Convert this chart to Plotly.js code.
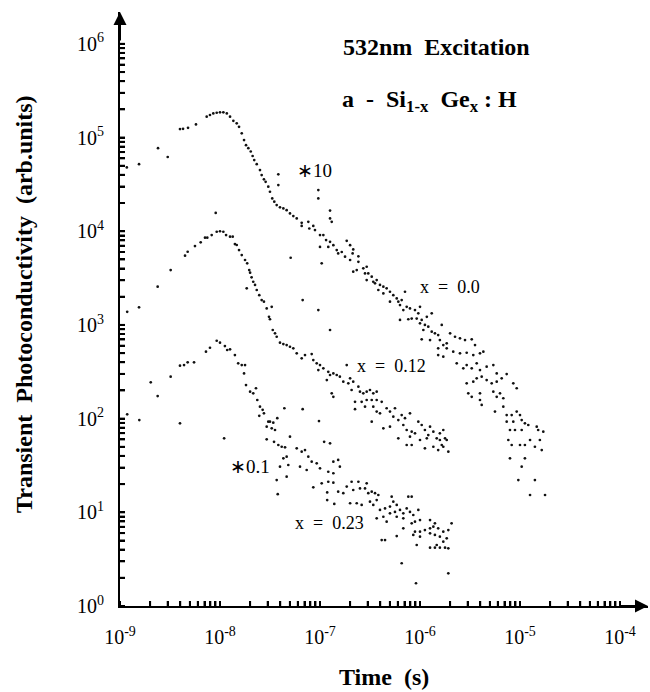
<!DOCTYPE html>
<html>
<head>
<meta charset="utf-8">
<script src="https://cdn.plot.ly/plotly-3.0.1.min.js"></script>
<style>html,body{margin:0;padding:0;background:#fff;}</style>
</head>
<body>
<div id="chart" style="width:650px;height:692px;"></div>
<script>
// Series x = 0.0 (scaled *10)
var t0 = [1.17e-9,1.55e-9,2.4e-9,3.0e-9,3.98e-9,4.27e-9,4.79e-9,5.75e-9,7.36e-9,7.94e-9,
8.57e-9,9.27e-9,1.0e-8,1.08e-8,1.17e-8,1.26e-8,1.36e-8,1.47e-8,1.55e-8,1.65e-8,
1.74e-8,1.82e-8,1.92e-8,2.03e-8,2.12e-8,2.20e-8,2.33e-8,2.51e-8,2.61e-8,2.75e-8,
2.86e-8,3.04e-8,3.16e-8,3.33e-8,3.49e-8,3.69e-8,3.98e-8,4.30e-8,4.64e-8,5.01e-8,
5.41e-8,5.85e-8,3.83e-8,3.83e-8,9.62e-8,9.62e-8,1.26e-7,1.26e-7,6.56e-8,6.56e-8,
7.64e-8,7.82e-8,8.57e-8,8.91e-8,1.0e-7,1.08e-7,1.15e-7,1.26e-7,1.36e-7,1.47e-7,
1.52e-7,1.0e-7,1.21e-7,1.31e-7,1.85e-7,1.65e-7,1.78e-7,2.0e-7,2.12e-7,2.15e-7,
2.0e-7,2.42e-7,2.42e-7,2.15e-7,2.33e-7,2.71e-7,2.82e-7,2.93e-7,3.04e-7,3.29e-7,
2.93e-7,3.41e-7,3.69e-7,3.55e-7,3.98e-7,4.30e-7,3.83e-7,4.64e-7,5.01e-7,4.30e-7,
5.41e-7,5.85e-7,5.01e-7,6.07e-7,6.56e-7,7.08e-7,6.31e-7,7.36e-7,6.81e-7,7.94e-7,
8.91e-7,1.0e-6,9.62e-7,7.64e-7,6.31e-7,8.26e-7,9.27e-7,1.04e-6,1.17e-6,1.31e-6,
1.0e-6,1.12e-6,1.21e-6,1.08e-6,1.31e-6,1.41e-6,1.52e-6,1.65e-6,1.04e-6,1.26e-6,
1.58e-6,1.71e-6,1.85e-6,2.0e-6,2.24e-6,2.51e-6,2.82e-6,3.29e-6,3.55e-6,1.85e-6,
1.52e-6,1.52e-6,1.71e-6,2.15e-6,2.51e-6,2.93e-6,3.41e-6,3.98e-6,4.30e-6,2.33e-6,
2.71e-6,2.93e-6,3.29e-6,3.69e-6,3.98e-6,4.64e-6,5.41e-6,5.85e-6,2.93e-6,3.41e-6,
3.69e-6,4.14e-6,4.64e-6,5.21e-6,5.85e-6,6.56e-6,7.36e-6,8.57e-6,9.27e-6,3.04e-6,
3.29e-6,3.98e-6,3.98e-6,4.14e-6,5.41e-6,5.85e-6,6.31e-6,6.81e-6,5.62e-6,6.81e-6,
7.36e-6,8.26e-6,9.27e-6,1.0e-5,7.36e-6,8.57e-6,1.04e-5,1.12e-5,7.94e-6,8.91e-6,
1.04e-5,1.21e-5,1.47e-5,1.71e-5,7.64e-6,8.26e-6,1.0e-5,1.12e-5,1.26e-5,1.41e-5,
1.58e-5,1.65e-5,7.94e-6,1.12e-5,1.04e-5,9.62e-6,1.41e-5,1.26e-5,1.78e-5,1.52e-5];
var s0 = [4.8e4,5.2e4,7.7e4,6.2e4,1.23e5,1.24e5,1.27e5,1.38e5,1.67e5,1.74e5,
1.81e5,1.84e5,1.86e5,1.86e5,1.81e5,1.67e5,1.51e5,1.42e5,1.30e5,1.11e5,
9.4e4,8.3e4,7.7e4,7.1e4,6.35e4,5.75e4,5.2e4,4.5e4,3.98e4,3.58e4,
3.37e4,2.99e4,2.64e4,2.24e4,2.07e4,1.90e4,1.80e4,1.75e4,1.68e4,1.55e4,
1.45e4,1.37e4,4.05e4,3.11e4,2.75e4,2.24e4,1.66e4,1.37e4,1.23e4,1.14e4,
1.26e4,1.07e4,1.14e4,1.03e4,9.1e3,9.1e3,8.05e3,7.7e3,7.1e3,6.3e3,
5.8e3,6.8e3,6.8e3,1.26e4,7.9e3,6.0e3,5.35e3,4.93e3,5.8e3,6.4e3,
7.1e3,5.4e3,4.72e3,3.70e3,3.85e3,4.02e3,3.55e3,4.18e3,3.55e3,3.27e3,
3.01e3,2.89e3,3.01e3,2.78e3,2.67e3,2.56e3,2.36e3,2.46e3,2.26e3,2.17e3,
2.08e3,1.92e3,1.77e3,1.77e3,1.84e3,2.26e3,1.63e3,1.56e3,1.44e3,1.50e3,
1.44e3,1.56e3,1.33e3,1.15e3,1.13e3,1.17e3,1.17e3,1.13e3,1.22e3,1.33e3,
1.04e3,1.0e3,957,883,847,813,780,1.0e3,702,690,
690,610,636,813,748,719,690,702,610,562,
562,477,458,518,498,505,477,498,518,389,
344,373,344,389,330,358,373,304,238,248,
269,280,258,238,248,269,299,238,211,186,
171,186,158,140,194,171,186,165,119,134,
109,109,119,109,92.7,92.7,96.6,89.1,75.6,75.6,
75.6,85.5,82.0,72.5,59.1,52.3,52.3,52.3,59.1,50.1,
59.1,46.2,37.7,37.7,30.7,22.1,22.1,15.3,15.3,75.6];

// Series x = 0.12
var t12 = [1.18e-9,1.55e-9,2.38e-9,3.21e-9,4.47e-9,4.75e-9,5.62e-9,6.41e-9,7.08e-9,7.46e-9,
8.26e-9,9.27e-9,1.0e-8,1.08e-8,1.15e-8,1.26e-8,1.34e-8,1.41e-8,1.47e-8,1.55e-8,
1.65e-8,1.78e-8,1.87e-8,1.96e-8,2.0e-8,2.07e-8,2.15e-8,2.24e-8,2.33e-8,2.47e-8,
2.61e-8,2.75e-8,2.93e-8,3.09e-8,3.16e-8,3.29e-8,3.37e-8,3.55e-8,3.69e-8,3.98e-8,
4.30e-8,4.64e-8,5.01e-8,5.41e-8,1.85e-8,9.06e-9,5.09e-8,6.71e-8,1.04e-7,9.62e-8,
1.26e-7,5.85e-8,6.56e-8,7.08e-8,8.26e-8,8.57e-8,9.27e-8,1.0e-7,9.62e-8,1.08e-7,
1.21e-7,1.26e-7,1.36e-7,1.47e-7,1.31e-7,1.36e-7,1.17e-7,1.85e-7,1.58e-7,1.71e-7,
1.92e-7,2.0e-7,2.15e-7,2.07e-7,2.42e-7,2.51e-7,2.71e-7,2.93e-7,3.16e-7,3.41e-7,
3.69e-7,2.24e-7,2.61e-7,2.93e-7,3.29e-7,3.69e-7,4.14e-7,2.24e-7,2.82e-7,3.41e-7,
3.69e-7,3.98e-7,4.64e-7,5.01e-7,5.62e-7,5.41e-7,6.07e-7,6.56e-7,7.08e-7,7.94e-7,
3.29e-7,4.30e-7,5.01e-7,6.07e-7,6.81e-7,7.36e-7,8.26e-7,8.91e-7,9.62e-7,1.04e-6,
1.12e-6,1.21e-6,1.26e-6,1.36e-6,1.47e-6,1.58e-6,1.71e-6,1.78e-6,1.85e-6,7.94e-7,
7.36e-7,8.26e-7,1.0e-6,1.17e-6,1.12e-6,1.36e-6,1.58e-6,1.65e-6,1.52e-6,1.92e-6,
1.71e-6];
var s12 = [1.38e3,1.54e3,2.56e3,3.85e3,5.48e3,6.04e3,6.95e3,7.62e3,8.53e3,8.53e3,
9.1e3,9.88e3,1.0e4,9.88e3,9.1e3,8.74e3,8.74e3,7.3e3,7.13e3,6.3e3,
5.57e3,4.93e3,4.54e3,3.85e3,3.61e3,3.22e3,2.89e3,2.67e3,2.36e3,2.08e3,
1.84e3,1.77e3,1.50e3,1.22e3,1.15e3,1.56e3,883,813,748,646,
625,610,585,562,2.46e3,1.57e4,5.21e3,1.84e3,4.54e3,1.44e3,
883,498,440,477,489,422,389,373,330,344,
316,292,304,292,186,171,258,373,280,248,
238,269,248,202,219,194,186,194,202,186,
194,151,151,158,158,158,151,126,134,134,
119,114,129,119,129,105,96.6,109,101,114,
92.7,78.8,82.0,61.6,85.5,75.6,72.5,69.7,92.7,85.5,
75.6,66.8,82.0,72.5,61.6,69.7,75.6,61.6,59.1,64.1,
52.3,52.3,59.1,61.6,48.2,50.1,59.1,52.3,46.2,44.4,
50.1];

// Series x = 0.23 (scaled *0.1)
var t23 = [1.18e-9,1.56e-9,2.03e-9,2.38e-9,3.21e-9,3.98e-9,4.37e-9,4.75e-9,5.50e-9,7.24e-9,
7.94e-9,9.27e-9,1.0e-8,1.12e-8,1.18e-8,1.26e-8,1.41e-8,1.52e-8,1.65e-8,1.78e-8,
1.74e-8,1.82e-8,2.0e-8,2.15e-8,2.29e-8,2.36e-8,2.51e-8,2.67e-8,2.75e-8,2.47e-8,
3.04e-8,2.93e-8,3.29e-8,3.55e-8,3.16e-8,3.41e-8,3.74e-8,2.93e-8,3.47e-8,3.83e-8,
4.14e-8,4.47e-8,4.30e-8,4.64e-8,3.98e-8,4.82e-8,5.01e-8,4.40e-8,6.71e-8,9.77e-8,
5.85e-8,6.56e-8,7.08e-8,7.64e-8,8.26e-8,6.31e-8,7.36e-8,9.27e-8,1.0e-7,1.10e-7,
1.26e-7,1.36e-7,1.52e-7,1.21e-7,1.36e-7,1.58e-7,4.64e-8,3.98e-9,1.10e-8,3.69e-8,
3.78e-8,8.57e-8,1.04e-7,1.21e-7,1.36e-7,1.18e-7,1.52e-7,1.18e-7,1.39e-7,1.71e-7,
1.85e-7,2.07e-7,2.42e-7,2.93e-7,2.15e-7,2.51e-7,2.82e-7,3.04e-7,3.29e-7,3.55e-7,
3.83e-7,2.0e-7,2.33e-7,2.61e-7,3.16e-7,3.41e-7,3.69e-7,3.98e-7,4.47e-7,5.01e-7,
5.21e-7,5.41e-7,5.85e-7,5.62e-7,6.31e-7,6.81e-7,7.36e-7,7.64e-7,8.26e-7,7.94e-7,
8.57e-7,9.62e-7,3.69e-7,4.30e-7,5.01e-7,4.64e-7,5.85e-7,6.81e-7,8.26e-7,8.91e-7,
1.0e-6,1.26e-6,1.41e-6,6.81e-7,8.91e-7,1.0e-6,1.12e-6,1.26e-6,1.36e-6,1.52e-6,
1.71e-6,1.92e-6,2.07e-6,8.57e-7,1.0e-6,1.26e-6,1.41e-6,1.58e-6,1.71e-6,1.85e-6,
9.27e-7,1.26e-6,1.41e-6,1.58e-6,1.78e-6,1.92e-6,4.14e-7,4.47e-7,5.85e-7,6.56e-7,
1.92e-6,9.12e-7,1.47e-6];
var s23 = [111,96.6,244,174,280,367,373,399,399,518,
571,678,646,595,540,549,477,389,373,373,
304,228,194,186,211,158,134,124,114,107,
92.7,82.0,78.8,75.6,92.7,90.4,101,60.1,56.6,52.3,
50.1,49.4,37.7,39.2,30.7,32.0,64.1,129,126,94.2,
48.2,44.4,46.2,39.2,34.7,30.7,28.3,33.3,29.5,56.6,
54.5,34.7,36.2,27.1,26.1,30.7,24.0,89.1,61.6,22.1,
15.6,18.5,20.4,21.2,20.7,16.3,16.6,13.5,12.3,16.0,
18.8,21.2,21.2,20.4,17.3,18.0,18.0,16.0,16.6,16.0,
15.3,12.5,12.5,12.0,13.0,12.0,13.5,10.6,11.0,11.5,
14.7,13.0,12.0,10.1,10.6,9.76,11.0,14.7,14.7,10.1,
9.36,10.6,8.63,8.97,9.76,7.94,8.97,8.63,7.63,7.94,
8.27,8.27,7.63,6.75,6.21,6.21,6.47,6.75,7.02,6.75,
6.21,6.47,7.63,5.73,5.49,5.97,5.73,5.49,4.86,5.28,
4.48,4.19,4.19,4.19,4.19,4.13,5.06,5.06,5.58,2.86,
2.23,1.75,4.48];

// Decade tick labels
var xDecades = [-9, -8, -7, -6, -5, -4];
var yDecades = [0, 1, 2, 3, 4, 5, 6];

// Build log ticks (1..9 per decade); only decades carry a label
function logAxisTicks(decades) {
  var vals = [], text = [];
  for (var i = 0; i < decades.length; i++) {
    var e = decades[i];
    vals.push(Math.pow(10, e));
    text.push('10<sup>' + (e < 0 ? '-' + (-e) : e) + '</sup>');
    if (i < decades.length - 1) {
      for (var m = 2; m <= 9; m++) { vals.push(m * Math.pow(10, e)); text.push(''); }
    }
  }
  return {vals: vals, text: text};
}
var xt = logAxisTicks(xDecades), yt = logAxisTicks(yDecades);

// Tick marks pointing into the plot, as layout shapes at the tick values
var tickShapes = [];
xt.vals.forEach(function (v) {
  tickShapes.push({type: 'line', xref: 'x', yref: 'paper', x0: v, x1: v,
    ysizemode: 'pixel', yanchor: 0, y0: 0, y1: 5, line: {color: '#000', width: 2}, layer: 'above'});
});
yt.vals.forEach(function (v) {
  tickShapes.push({type: 'line', yref: 'y', xref: 'paper', y0: v, y1: v,
    xsizemode: 'pixel', xanchor: 0, x0: 0, x1: 5, line: {color: '#000', width: 2}, layer: 'above'});
});

var FONT = 'Liberation Serif, serif';
var mk = {size: 2.7, color: '#111'};
var data = [
  {x: t0, y: s0, type: 'scatter', mode: 'markers', marker: mk, name: 'x = 0.0'},
  {x: t12, y: s12, type: 'scatter', mode: 'markers', marker: mk, name: 'x = 0.12'},
  {x: t23, y: s23, type: 'scatter', mode: 'markers', marker: mk, name: 'x = 0.23'}
];

var L = 120, T = 12, W = 528, H = 594;
function px(p) { return (p - L) / W; }
function py(p) { return (T + H - p) / H; }

var layout = {
  width: 650, height: 692,
  margin: {l: L, r: 650 - L - W, t: T, b: 692 - T - H},
  showlegend: false,
  xaxis: {
    type: 'log', range: [-9, -3.72],
    showline: true, linecolor: '#000', linewidth: 2,
    showgrid: false, zeroline: false,
    ticks: 'inside', ticklen: 5, tickwidth: 2, tickcolor: '#000',
    tickmode: 'array', tickvals: xt.vals, ticktext: xt.text,
    tickfont: {family: FONT, size: 20, color: '#000'},
    ticklabelstandoff: 12
  },
  yaxis: {
    type: 'log', range: [0, 6.34],
    showline: true, linecolor: '#000', linewidth: 2,
    showgrid: false, zeroline: false,
    ticks: 'inside', ticklen: 5, tickwidth: 2, tickcolor: '#000',
    tickmode: 'array', tickvals: yt.vals, ticktext: yt.text,
    tickfont: {family: FONT, size: 20, color: '#000'},
    ticklabelstandoff: 10
  },
  shapes: tickShapes,
  annotations: [
    {xref: 'paper', yref: 'paper', x: px(384), y: py(677), text: '<b>Time\u00a0 (s)</b>', showarrow: false, font: {family: FONT, size: 24, color: '#000'}, xanchor: 'center', yanchor: 'middle'},
    {xref: 'paper', yref: 'paper', x: px(24), y: py(304), text: '<b>Transient\u00a0 Photoconductivity\u00a0 (arb.units)</b>', textangle: -90, showarrow: false, font: {family: FONT, size: 24, color: '#000'}, xanchor: 'center', yanchor: 'middle'},
    {xref: 'paper', yref: 'paper', x: 0, y: 1, ax: 0, ay: 30, showarrow: true, arrowhead: 2, arrowsize: 1.3, arrowwidth: 2, arrowcolor: '#000', text: '', standoff: 0},
    {xref: 'paper', yref: 'paper', x: 1, y: 0, ax: -30, ay: 0, showarrow: true, arrowhead: 2, arrowsize: 1.3, arrowwidth: 2, arrowcolor: '#000', text: '', standoff: 0},
    {xref: 'paper', yref: 'paper', x: px(436), y: py(47), text: '<b>532nm\u00a0 Excitation</b>', showarrow: false, font: {family: FONT, size: 24, color: '#000'}, xanchor: 'center', yanchor: 'middle'},
    {xref: 'paper', yref: 'paper', x: px(340), y: py(101), text: '<b>a\u00a0 -\u00a0 Si<sub>1-x</sub>\u00a0 Ge<sub>x</sub> : H</b>', showarrow: false, font: {family: FONT, size: 24, color: '#000'}, xanchor: 'left', yanchor: 'middle'},
    {xref: 'paper', yref: 'paper', x: px(314), y: py(170), text: '\u221710', showarrow: false, font: {family: FONT, size: 19, color: '#000'}, xanchor: 'center', yanchor: 'middle'},
    {xref: 'paper', yref: 'paper', x: px(450), y: py(287), text: 'x\u00a0 =\u00a0 0.0', showarrow: false, font: {family: FONT, size: 18, color: '#000'}, xanchor: 'center', yanchor: 'middle'},
    {xref: 'paper', yref: 'paper', x: px(391), y: py(366), text: 'x\u00a0 =\u00a0 0.12', showarrow: false, font: {family: FONT, size: 18, color: '#000'}, xanchor: 'center', yanchor: 'middle'},
    {xref: 'paper', yref: 'paper', x: px(250), y: py(466), text: '\u22170.1', showarrow: false, font: {family: FONT, size: 19, color: '#000'}, xanchor: 'center', yanchor: 'middle'},
    {xref: 'paper', yref: 'paper', x: px(329), y: py(523), text: 'x\u00a0 =\u00a0 0.23', showarrow: false, font: {family: FONT, size: 18, color: '#000'}, xanchor: 'center', yanchor: 'middle'}
  ]
};

Plotly.newPlot('chart', data, layout, {displayModeBar: false, staticPlot: true});
</script>
</body>
</html>
